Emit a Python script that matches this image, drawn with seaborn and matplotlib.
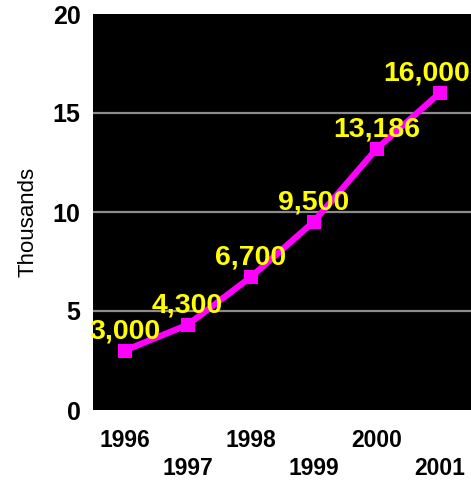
import matplotlib
matplotlib.use("Agg")
import matplotlib.pyplot as plt
import seaborn as sns
import pandas as pd

years = ["1996", "1997", "1998", "1999", "2000", "2001"]
values = [3.000, 4.300, 6.700, 9.500, 13.186, 16.000]   # thousands
labels = ["3,000", "4,300", "6,700", "9,500", "13,186", "16,000"]
y_ticks = [0, 5, 10, 15, 20]

sns.set_theme(style="white")
plt.rcParams["font.family"] = ["Liberation Sans", "DejaVu Sans"]

df = pd.DataFrame({"year": years, "value": values})

fig = plt.figure(figsize=(4.71, 4.80), dpi=100)
ax = fig.add_axes([93 / 471, 70 / 480, 378 / 471, 396 / 480])
ax.set_facecolor("black")

for y in y_ticks[1:-1]:
    ax.axhline(y, color="#8c8c8c", linewidth=1.6, zorder=1)

sns.pointplot(data=df, x="year", y="value", color="#ff00ff", markers="s",
              markersize=10, markeredgewidth=0, linewidth=4.5, ax=ax, zorder=3)

# value labels above each point
offsets = [0, 0, 0, 0, 0, -9]
for i, (v, lab) in enumerate(zip(values, labels)):
    ax.annotate(lab, (i, v), xytext=(offsets[i], 9), textcoords="offset points",
                ha="center", va="baseline", color="#ffff00",
                fontsize=20.5, fontweight="bold", zorder=4)

ax.set_xlim(-0.5, 5.5)
ax.set_ylim(0, 20)
ax.set_yticks(y_ticks)
ax.set_yticklabels([str(t) for t in y_ticks], fontsize=18, fontweight="bold",
                   color="black")
ax.tick_params(axis="y", length=0, pad=9)

ax.set_xticks(range(len(years)))
ax.set_xticklabels(years, fontsize=16.5, fontweight="bold", color="black")
ax.tick_params(axis="x", length=0)
# stagger the year labels on two rows
for i, tick in enumerate(ax.xaxis.get_major_ticks()):
    tick.set_pad(13.5 if i % 2 == 0 else 33.5)

ax.set_xlabel("")
ax.set_ylabel("Thousands", fontsize=16, color="black")
ax.yaxis.set_label_coords(-0.143, 0.475)
for s in ax.spines.values():
    s.set_visible(False)

fig.savefig("out.png", dpi=100)
